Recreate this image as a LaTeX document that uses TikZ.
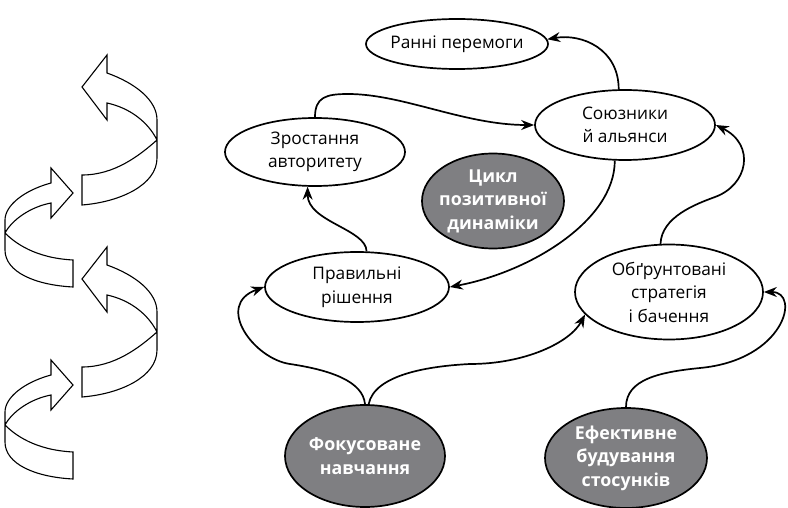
\documentclass[tikz,border=0pt]{standalone}
\usepackage{fontspec}
\setmainfont{Open Sans}
\usetikzlibrary{shapes.geometric,arrows.meta}
\definecolor{bubgray}{RGB}{127,127,130}
\begin{document}
\begin{tikzpicture}[x=1pt,y=-1pt,
  bub/.style={ellipse, draw, line width=1.7pt, fill=white, inner sep=-6pt, align=center,
              font=\fontsize{17.3}{23.5}\selectfont},
  dark/.style={bub, fill=bubgray, text=white, font=\fontsize{17.8}{23.5}\selectfont\bfseries},
  conn/.style={line width=1.7pt, -{Stealth[length=13pt,width=10pt]}},
  ribbon/.style={draw, line width=1.1pt, fill=white, line join=miter}]
\useasboundingbox (0,0) rectangle (788,508);

% left decorative ribbon arrows
\foreach \dy in {0,192} {
  \begin{scope}[shift={(0,\dy)}]
    \draw[ribbon] (82,87) -- (107,55) -- (107,73)
      .. controls (135,83) and (157,100) .. (157,120) -- (157,158)
      .. controls (157,185) and (120,202) .. (82,205) -- (82,175)
      .. controls (115,175) and (140,155) .. (157,140)
      .. controls (148,122) and (130,108) .. (107,103) -- (107,120) -- cycle;
    \draw[ribbon] (73,193) -- (51,168) -- (51,183)
      .. controls (25,190) and (5,205) .. (5,220) -- (5,250)
      .. controls (5,272) and (35,285) .. (73,287) -- (73,260)
      .. controls (35,258) and (15,243) .. (5,233)
      .. controls (12,220) and (30,207) .. (51,203) -- (51,218) -- cycle;
  \end{scope}
}

% nodes
\node[bub, minimum width=182pt, minimum height=50pt] (rp) at (457,44) {Ранні перемоги};
\node[bub, minimum width=180pt, minimum height=70pt] (sa) at (625,125) {Союзники\\й альянси};
\node[bub, minimum width=180pt, minimum height=68pt] (za) at (315,152) {Зростання\\авторитету};
\node[dark, minimum width=142pt, minimum height=95pt] (cy) at (493,201) {Цикл\\позитивної\\динаміки};
\node[bub, minimum width=184pt, minimum height=70pt] (pr) at (357,287) {Правильні\\рішення};
\node[bub, minimum width=188pt, minimum height=95pt] (ob) at (669,292) {Обґрунтовані\\стратегія\\і бачення};
\node[dark, minimum width=160pt, minimum height=102pt] (fo) at (365,456) {Фокусоване\\навчання};
\node[dark, minimum width=162pt, minimum height=100pt] (ef) at (626,458) {Ефективне\\будування\\стосунків};

% connectors
\draw[conn] (sa.100) .. controls +(0,-40) and +(35,-6) .. (rp.3);
\draw[conn] (za.north) .. controls +(0,-20) and +(-22,0) .. (348,94)
  .. controls +(55,0) and +(-70,0) .. (sa.west);
\draw[conn] (sa.254) .. controls +(0,60) and +(80,-15) .. (pr.east);
\draw[conn] (pr.75) .. controls +(0,-22) and +(0,35) .. (za.258);
\draw[conn] (fo.north) .. controls +(-2,-23) and +(40,6) .. (290,364)
  .. controls +(-36,-5) and +(-50,18) .. (pr.west);
\draw[conn] (fo.86) .. controls +(6,-30) and +(-40,2) .. (470,364)
  .. controls +(55,0) and +(-15,28) .. (ob.195);
\draw[conn] (ob.100) .. controls +(1,-27) and +(-19,7) .. (715,197)
  .. controls +(33,-12) and +(40,20) .. (sa.east);
\draw[conn] (ef.north) .. controls +(0,-28) and +(-40,4) .. (700,368)
  .. controls +(85,-8) and +(37,0) .. (ob.east);
\end{tikzpicture}
\end{document}
